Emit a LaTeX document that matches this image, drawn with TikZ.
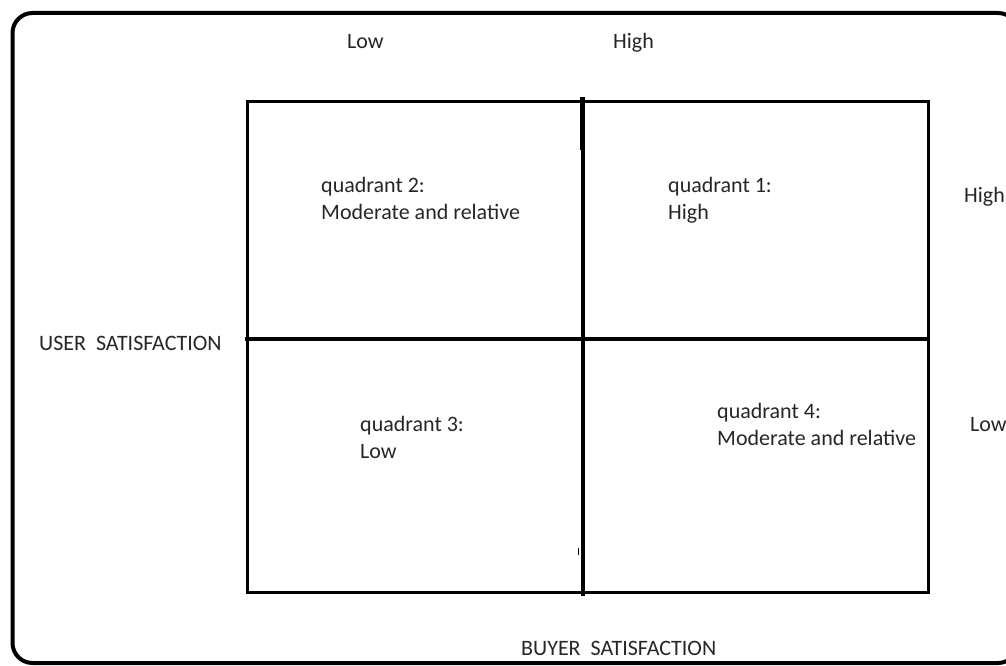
\documentclass[tikz,border=0pt]{standalone}
\usepackage{fontspec}
\setmainfont{Carlito}
\begin{document}
\begin{tikzpicture}[x=1pt,y=-1pt,
  lbl/.style={anchor=base west,inner sep=0pt,text=black!85,align=left,
    font=\fontsize{22}{27}\selectfont},
  frame/.style={line width=4pt,rounded corners=20pt},
  grid/.style={line width=3pt},
  axisline/.style={line width=4pt}]
\useasboundingbox (0,0) rectangle (1006,666);
\clip (0,0) rectangle (1006,666);
% outer frame
\draw[frame] (12.5,13) rectangle (1018,663);
% grid corners
\coordinate (tl) at (247,102);
\coordinate (br) at (928,592);
\coordinate (vt) at (583,97);
\coordinate (vb) at (583,596);
\coordinate (hl) at (245,338.5);
\coordinate (hr) at (928,338.5);
\draw[grid] (tl) rectangle (br);
\draw[axisline] (vt) -- (vb);
\draw[axisline] (hl) -- (hr);
% small stroke artefacts
\coordinate (t1) at (580.5,97);
\coordinate (t2) at (580.5,150);
\draw[line width=2pt] (t1) -- (t2);
\coordinate (k1) at (578,548);
\coordinate (k2) at (578,555);
\draw[line width=1pt] (k1) -- (k2);
% labels (multi-line nodes: base = last line)
\node[lbl] (lowtop) at (347,49) {Low};
\node[lbl] (hightop) at (613,49) {High};
\node[lbl] (highr) at (964,202) {High};
\node[lbl] (lowr) at (970,431) {Low};
\node[lbl] (user) at (39,350) {USER\ \ SATISFACTION};
\node[lbl] (buyer) at (521,655) {BUYER\ \ SATISFACTION};
\node[lbl] (q2) at (321,219) {quadrant 2:\\Moderate and relative};
\node[lbl] (q1) at (668,219) {quadrant 1:\\High};
\node[lbl] (q3) at (360,458) {quadrant 3:\\Low};
\node[lbl] (q4) at (717,445) {quadrant 4:\\Moderate and relative};
\end{tikzpicture}
\end{document}
